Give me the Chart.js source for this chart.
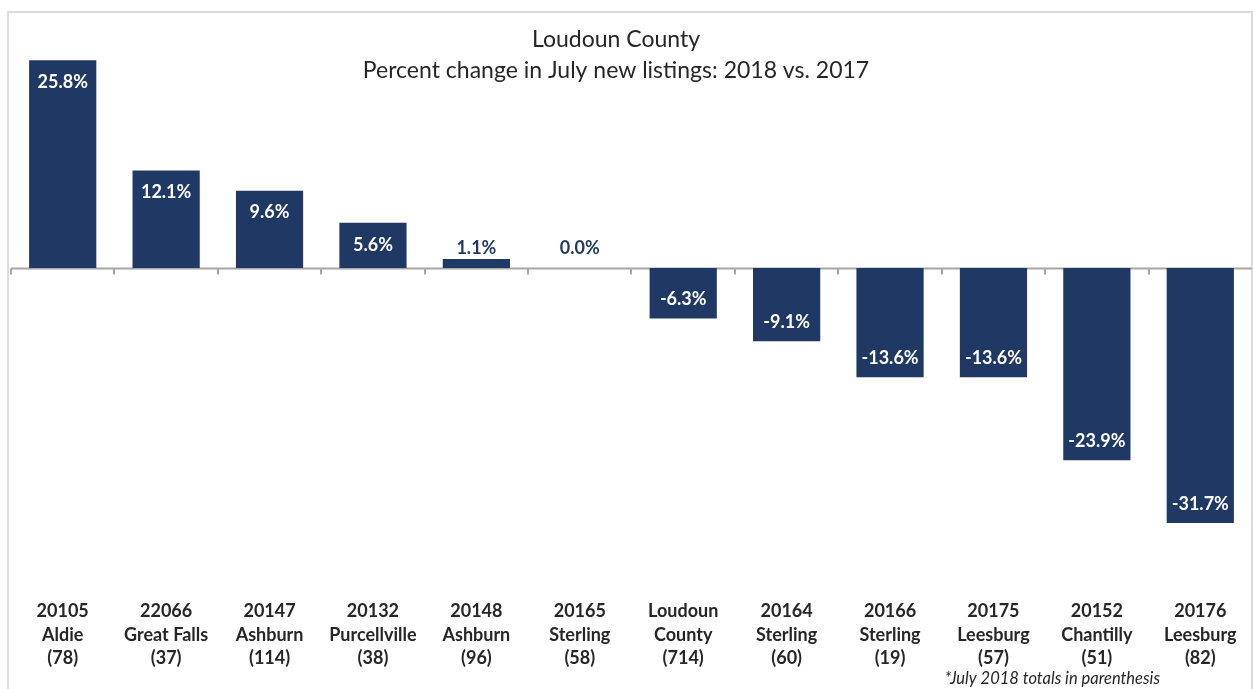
<!DOCTYPE html>
<html>
<head>
<meta charset="utf-8">
<script src="https://cdn.jsdelivr.net/npm/chart.js@4.4.0/dist/chart.umd.min.js"></script>
<style>
  html, body { margin: 0; padding: 0; background: #fff; overflow: hidden; }
  #wrap { position: relative; width: 1253px; height: 689px; }
</style>
</head>
<body>
<div id="wrap"><canvas id="listings"></canvas></div>
<script>
// July new listings, percent change 2018 vs 2017, by zip code
const zipCodes = ['20105', '22066', '20147', '20132', '20148', '20165', 'Loudoun', '20164', '20166', '20175', '20152', '20176'];
const places = ['Aldie', 'Great Falls', 'Ashburn', 'Purcellville', 'Ashburn', 'Sterling', 'County', 'Sterling', 'Sterling', 'Leesburg', 'Chantilly', 'Leesburg'];
const julyTotals = [78, 37, 114, 38, 96, 58, 714, 60, 19, 57, 51, 82];
const pctChange = [25.8, 12.1, 9.6, 5.6, 1.1, 0.0, -6.3, -9.1, -13.6, -13.6, -23.9, -31.7];
const titleLines = ['Loudoun County', 'Percent change in July new listings: 2018 vs. 2017'];
const footnote = '*July 2018 totals in parenthesis';

const NAVY = '#1f3864';
const FONT = 'Lato, Carlito, Calibri, sans-serif';

// light frame around the whole chart
const framePlugin = {
  id: 'frame',
  beforeDraw(chart) {
    const ctx = chart.ctx;
    ctx.save();
    ctx.strokeStyle = '#dadada';
    ctx.lineWidth = 2;
    ctx.strokeRect(8, 12, 1244, 700);
    ctx.restore();
  }
};

// zero baseline with small tick marks between categories
const baselinePlugin = {
  id: 'baseline',
  beforeDatasetsDraw(chart) {
    const {ctx, chartArea, scales} = chart;
    const y0 = Math.round(scales.y.getPixelForValue(0)) + 0.5;
    const half = (scales.x.getPixelForValue(1) - scales.x.getPixelForValue(0)) / 2;
    ctx.save();
    ctx.strokeStyle = '#a6a6a6';
    ctx.lineWidth = 2;
    ctx.beginPath();
    ctx.moveTo(chartArea.left, y0);
    ctx.lineTo(chartArea.right, y0);
    for (let i = 0; i < zipCodes.length; i++) {
      const x = Math.round(scales.x.getPixelForValue(i) - half);
      ctx.moveTo(x, y0);
      ctx.lineTo(x, y0 + 6);
    }
    ctx.stroke();
    ctx.restore();
  }
};

// percent labels: inside the bar end, or above tiny bars
const valueLabelPlugin = {
  id: 'valueLabels',
  afterDatasetsDraw(chart) {
    const {ctx, scales} = chart;
    const meta = chart.getDatasetMeta(0);
    const y0 = scales.y.getPixelForValue(0);
    ctx.save();
    ctx.font = 'bold 18px ' + FONT;
    ctx.textAlign = 'center';
    ctx.textBaseline = 'middle';
    meta.data.forEach((bar, i) => {
      const v = pctChange[i];
      const text = v.toFixed(1) + '%';
      let y;
      if (Math.abs(v) < 2) {
        ctx.fillStyle = NAVY;
        y = y0 - 20;
      } else if (v > 0) {
        ctx.fillStyle = '#ffffff';
        y = bar.y + 22;
      } else {
        ctx.fillStyle = '#ffffff';
        y = bar.y - 19;
      }
      ctx.fillText(text, bar.x, y);
    });
    ctx.restore();
  }
};

// two-line heading and footnote
const textPlugin = {
  id: 'texts',
  afterDraw(chart) {
    const ctx = chart.ctx;
    ctx.save();
    ctx.fillStyle = '#262626';
    ctx.textAlign = 'center';
    ctx.textBaseline = 'middle';
    ctx.font = '23px ' + FONT;
    ctx.fillText(titleLines[0], 616, 40);
    ctx.fillText(titleLines[1], 616, 71);
    ctx.font = 'italic 16.5px ' + FONT;
    ctx.textAlign = 'right';
    ctx.fillText(footnote, 1160, 679);
    ctx.restore();
  }
};

new Chart(document.getElementById('listings'), {
  type: 'bar',
  data: {
    labels: zipCodes,
    datasets: [{
      data: pctChange,
      backgroundColor: NAVY,
      borderWidth: 0,
      barPercentage: 0.65,
      categoryPercentage: 1.0
    }]
  },
  options: {
    responsive: true,
    maintainAspectRatio: false,
    animation: false,
    layout: {padding: {top: 26.5, bottom: 9, left: 11, right: 1}},
    plugins: {
      legend: {display: false},
      tooltip: {enabled: false},
      title: {display: false}
    },
    scales: {
      x: {
        offset: true,
        grid: {display: false, drawTicks: false},
        border: {display: false},
        ticks: {
          padding: 10,
          color: '#262626',
          font: {family: FONT, size: 18, weight: 'bold', lineHeight: 1.3},
          maxRotation: 0,
          autoSkip: false,
          callback: (val, i) => [zipCodes[i], places[i], '(' + julyTotals[i] + ')']
        }
      },
      y: {
        display: false,
        min: -40,
        max: 30
      }
    }
  },
  plugins: [framePlugin, baselinePlugin, valueLabelPlugin, textPlugin]
});
</script>
</body>
</html>
